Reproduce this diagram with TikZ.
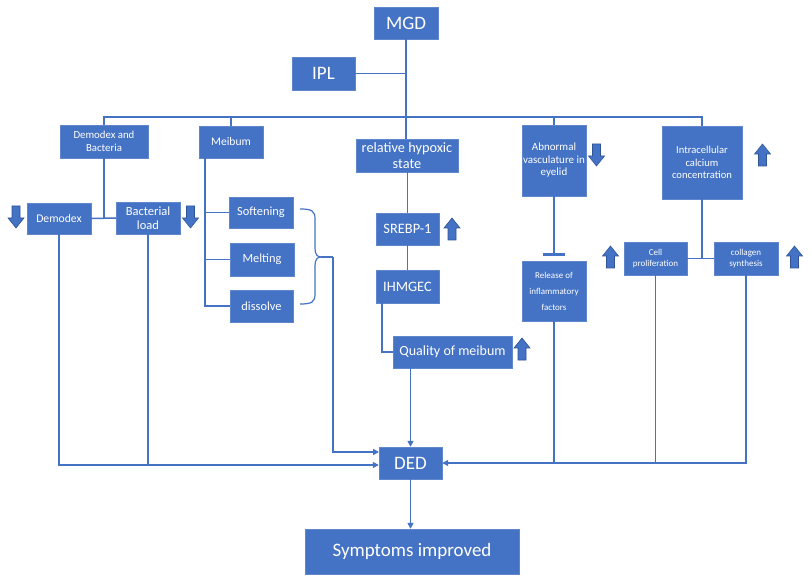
\documentclass[tikz,border=0pt]{standalone}
\usepackage{fontspec}
\setmainfont{Carlito}
\usetikzlibrary{arrows.meta}
\definecolor{boxblue}{HTML}{4472C4}
\definecolor{lineblue}{HTML}{4472C4}
\definecolor{arrowedge}{HTML}{2F5597}
\newcommand\fs[2]{\fontsize{#1}{#2}\selectfont}
\tikzset{
  box/.style={fill=boxblue, draw=boxblue!85!white, line width=0.4pt, text=white, align=center, inner sep=0pt},
  conn/.style={draw=lineblue, line width=1.5pt},
  arr/.style={conn, -{Triangle[width=6pt,length=6pt]}},
  blockup/.pic={\filldraw[fill=boxblue, draw=arrowedge, line width=0.6pt] (0,-11) -- (8,-1) -- (4,-1) -- (4,11) -- (-4,11) -- (-4,-1) -- (-8,-1) -- cycle;},
  blockdown/.pic={\filldraw[fill=boxblue, draw=arrowedge, line width=0.6pt] (0,11) -- (8,1) -- (4,1) -- (4,-11) -- (-4,-11) -- (-4,1) -- (-8,1) -- cycle;}
}
\begin{document}
\begin{tikzpicture}[x=1pt,y=-1pt]
\useasboundingbox[fill=white] (0,0) rectangle (812,580);
% nodes
\node[box, minimum width=64pt, minimum height=32pt, font=\fs{19}{22}] (mgd) at (406,23) {MGD};
\node[box, minimum width=63pt, minimum height=33pt, font=\fs{19}{22}] (ipl) at (323.5,73.5) {IPL};
\node[box, minimum width=88pt, minimum height=33pt, font=\fs{10.8}{12.5}] (dembac) at (104,141.5) {Demodex and\\Bacteria};
\node[box, minimum width=64pt, minimum height=31pt, font=\fs{11.7}{14}] (demodex) at (59,218.5) {Demodex};
\node[box, minimum width=64pt, minimum height=32pt, font=\fs{12.5}{14}] (bact) at (148,218) {Bacterial\\load};
\node[box, minimum width=64pt, minimum height=32pt, font=\fs{11.6}{13}] (meibum) at (231,142) {Meibum};
\node[box, minimum width=64pt, minimum height=31pt, font=\fs{12.4}{14}] (soft) at (261,212.5) {Softening};
\node[box, minimum width=64pt, minimum height=33pt, font=\fs{12.4}{14}] (melt) at (262,259.5) {Melting};
\node[box, minimum width=63pt, minimum height=32pt, font=\fs{12.4}{14}] (diss) at (261.5,306) {dissolve};
\node[box, minimum width=102pt, minimum height=33pt, font=\fs{14.3}{16}] (hyp) at (407,155.5) {relative hypoxic\\state};
\node[box, minimum width=63pt, minimum height=32pt, font=\fs{14.4}{16}] (srebp) at (407.5,229) {SREBP-1};
\node[box, minimum width=63pt, minimum height=33pt, font=\fs{14.4}{16}] (ihm) at (407.5,286.5) {IHMGEC};
\node[box, minimum width=119pt, minimum height=32pt, font=\fs{14}{16}] (qual) at (452.5,352) {Quality of meibum};
\node[box, minimum width=64pt, minimum height=71pt, font=\fs{11}{12.5}] (abn) at (554,160.5) {Abnormal\\vasculature in\\eyelid};
\node[box, minimum width=64pt, minimum height=60pt, font=\fs{9}{16}] (rel) at (554,291) {Release of\\inflammatory\\factors};
\node[box, minimum width=80pt, minimum height=73pt, font=\fs{10.6}{12.5}] (intra) at (702,162.5) {Intracellular\\calcium\\concentration};
\node[box, minimum width=63pt, minimum height=33pt, font=\fs{9}{11}] (cell) at (655.5,258.5) {Cell\\proliferation};
\node[box, minimum width=64pt, minimum height=33pt, font=\fs{9}{11}] (coll) at (746,258.5) {collagen\\synthesis};
\node[box, minimum width=63pt, minimum height=32pt, font=\fs{19}{22}] (ded) at (410.5,463) {DED};
\node[box, minimum width=214pt, minimum height=45pt, font=\fs{19}{22}] (symp) at (412,551.5) {Symptoms improved};
% block arrows
\pic at (16,217) {blockdown};
\pic at (190.5,217) {blockdown};
\pic at (452,229) {blockup};
\pic at (522,349) {blockup};
\pic at (596.5,155) {blockdown};
\pic at (762.5,155) {blockup};
\pic at (610.5,257) {blockup};
\pic at (794.5,257) {blockup};
% coordinates
\coordinate (bus) at (0,117);
\coordinate (mv) at (205,158);
\coordinate (iv) at (382,303);
\coordinate (btip) at (321,257);
\coordinate (bcol) at (333,257);
\coordinate (dedl) at (379,452);
\coordinate (dedw) at ([yshift=-2pt]ded.west);
% connectors
\draw[conn] (mgd.south) -- (mgd.south |- hyp.north);
\draw[conn] (ipl.east) -- (ipl.east -| mgd.south);
\draw[conn] (dembac.north) -- (dembac.north |- bus) -- (intra.north |- bus) -- (intra.north);
\draw[conn] (meibum.north) -- (meibum.north |- bus);
\draw[conn] (abn.north) -- (abn.north |- bus);
\draw[conn] (dembac.south) -- (dembac.south |- demodex.east);
\draw[conn] (demodex.east) -- (bact.west);
\draw[conn] (mv) |- (diss.west);
\draw[conn] (mv |- soft.west) -- (soft.west);
\draw[conn] (mv |- melt.west) -- (melt.west);
\draw[conn] (srebp.north |- hyp.south) -- (srebp.north);
\draw[conn] (srebp.south) -- (ihm.north);
\draw[conn] (iv) |- (qual.west);
\draw[conn, -{Bar[width=22pt,line width=3pt]}] (abn.south) -- ([yshift=5pt]rel.north);
\draw[conn] (intra.south) -- (intra.south |- cell.east);
\draw[conn] (cell.east) -- (coll.west);
% brace
\draw[conn, line width=1.2pt] (300,209) .. controls (312,209) and (315,211) .. (315,219) -- (315,248) .. controls (315,254) and (317,257) .. (btip);
\draw[conn, line width=1.2pt] (300,304) .. controls (312,304) and (315,302) .. (315,294) -- (315,266) .. controls (315,260) and (317,257) .. (btip);
\draw[conn] (btip) -- (bcol);
\draw[arr] (bcol) |- (dedl);
% to DED
\draw[arr] (demodex.south) |- (dedw);
\draw[conn] (bact.south) -- (bact.south |- dedw);
\draw[arr] (qual.south -| ded.north) -- (ded.north);
\draw[arr] (coll.south) |- (ded.east);
\draw[conn] (cell.south) -- (cell.south |- ded.east);
\draw[conn] (rel.south) -- (rel.south |- ded.east);
\draw[arr] (ded.south) -- (ded.south |- symp.north);
\end{tikzpicture}
\end{document}
